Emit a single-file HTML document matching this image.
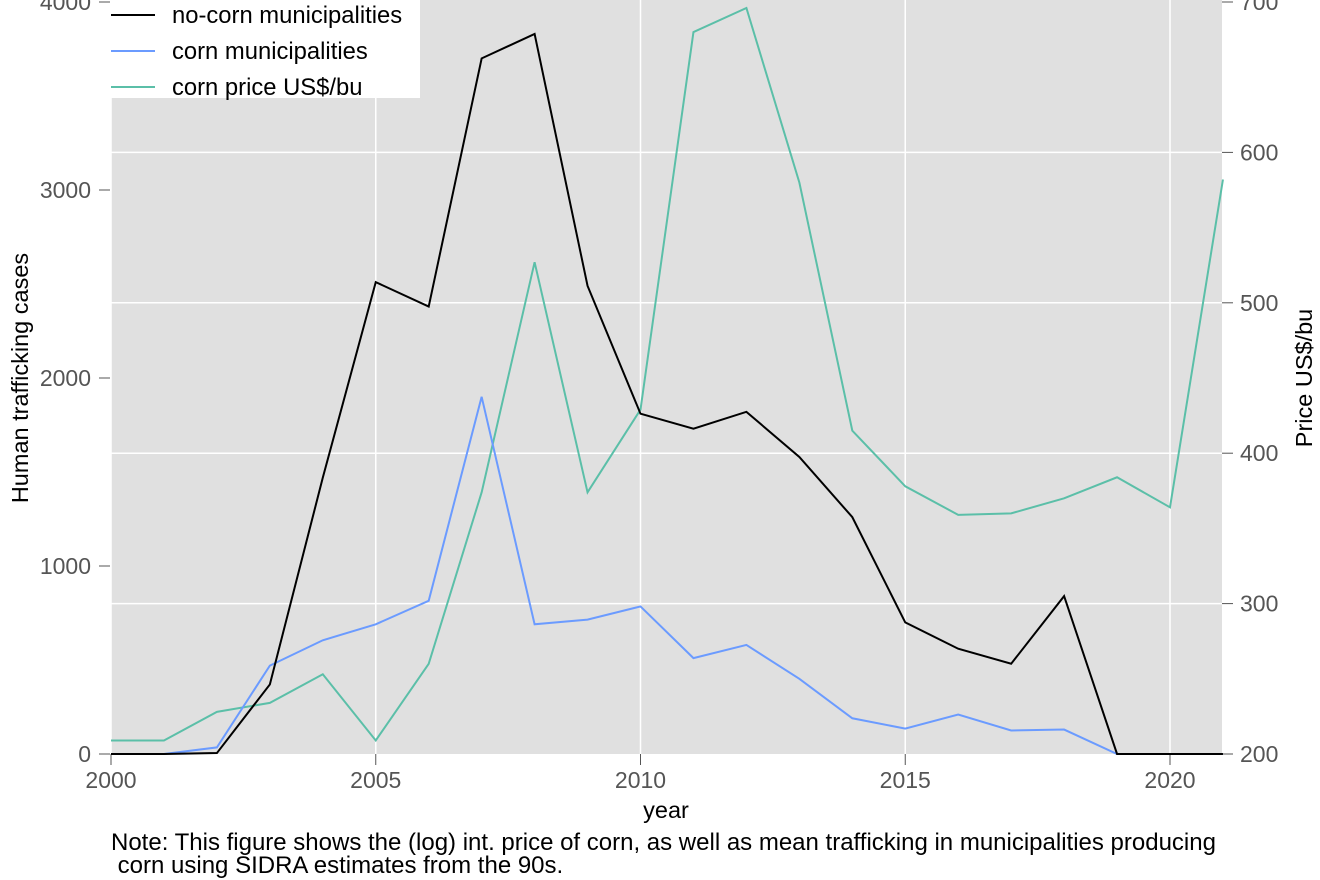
<!DOCTYPE html>
<html><head><meta charset="utf-8"><style>
body{margin:0;background:#fff;}
svg{display:block;font-family:"Liberation Sans",Arial,sans-serif;}
</style></head><body>
<svg id="chart" width="1320" height="880" xmlns="http://www.w3.org/2000/svg">
<rect x="111" y="0" width="1111" height="754" fill="#e0e0e0"/>
<g id="grid"></g>
<g id="axes"></g>
<g id="series"></g>
<g>
<rect x="111" y="0" width="309" height="98" fill="#fff"/>
<g><line x1="111" y1="15" x2="155" y2="15" stroke="#000" stroke-width="2"/><text x="172" y="23" font-size="23.8" fill="#000">no-corn municipalities</text></g>
<g><line x1="111" y1="51" x2="155" y2="51" stroke="#6b9bff" stroke-width="2"/><text x="172" y="59" font-size="23.8" fill="#000">corn municipalities</text></g>
<g><line x1="111" y1="87" x2="155" y2="87" stroke="#5bbfa8" stroke-width="2"/><text x="172" y="95" font-size="23.8" fill="#000">corn price US$/bu</text></g>
</g>
<text x="666" y="818" font-size="23.5" text-anchor="middle" fill="#000">year</text>
<text transform="translate(28,378) rotate(-90)" font-size="23.5" text-anchor="middle" fill="#000">Human trafficking cases</text>
<text transform="translate(1312,378) rotate(-90)" font-size="23.5" text-anchor="middle" fill="#000">Price US$/bu</text>
<text font-size="24" fill="#000"><tspan x="111" y="850">Note: This figure shows the (log) int. price of corn, as well as mean trafficking in municipalities producing</tspan><tspan x="111" y="873"> corn using SIDRA estimates from the 90s.</tspan></text>
</svg>
<script>
const years=[2000,2001,2002,2003,2004,2005,2006,2007,2008,2009,2010,2011,2012,2013,2014,2015,2016,2017,2018,2019,2020,2021];
const noCorn=[0,0,5,370,1470,2510,2380,3700,3830,2490,1810,1730,1820,1580,1260,700,560,480,840,0,0,0];
const corn=[0,0,35,470,605,690,815,1900,690,715,785,510,580,400,190,135,210,125,130,0,0,0];
const price=[209,209,228,234,253,209,260,374,527,374,429,680,696,580,415,378,359,360,370,384,364,582];
const xTicks=[2000,2005,2010,2015,2020];
const yLeftTicks=[0,1000,2000,3000,4000];
const yRightTicks=[200,300,400,500,600,700];
const X=v=>111+(v-2000)*(1170-111)/20;
const YL=v=>754-v*752/4000;
const YR=v=>754-(v-200)*752/500;
const NS="http://www.w3.org/2000/svg";
function mk(tag,attrs,parent,txt){const e=document.createElementNS(NS,tag);for(const k in attrs)e.setAttribute(k,attrs[k]);if(txt!==undefined)e.textContent=txt;parent.appendChild(e);return e;}
const grid=document.getElementById('grid'),axes=document.getElementById('axes'),series=document.getElementById('series');
xTicks.forEach(t=>{
 const g=mk('line',{x1:X(t),x2:X(t),y1:0,y2:754,stroke:'#fff','stroke-width':1.5},grid);
 
 
 const tk=mk('line',{x1:X(t),x2:X(t),y1:754,y2:765,stroke:'#555','stroke-width':1},axes);
 
 
 const l=mk('text',{x:X(t),y:788,'font-size':23,'text-anchor':'middle',fill:'#555'},axes,t);
 
 
});
yRightTicks.forEach(t=>{
 if(t>200&&t<700){const g=mk('line',{x1:111,x2:1222,y1:YR(t),y2:YR(t),stroke:'#fff','stroke-width':1.5},grid);
 
 }
 const tk=mk('line',{x1:1222,x2:1233,y1:YR(t),y2:YR(t),stroke:'#555','stroke-width':1},axes);
 
 
 const l=mk('text',{x:1240,y:YR(t)+8,'font-size':23,fill:'#555'},axes,t);
 
 
});
yLeftTicks.forEach(t=>{
 const tk=mk('line',{x1:99,x2:110,y1:YL(t),y2:YL(t),stroke:'#555','stroke-width':1},axes);
 
 
 const l=mk('text',{x:91,y:YL(t)+8,'font-size':23,'text-anchor':'end',fill:'#555'},axes,t);
 
 
});
function line(vals,yf,color,name){
 const p=mk('polyline',{points:vals.map((v,i)=>X(years[i])+','+yf(v)).join(' '),fill:'none',stroke:color,'stroke-width':2},series);
 
 
}
line(price,YR,'#5bbfa8','corn-price-line');
line(corn,YL,'#6b9bff','corn-municipalities-line');
line(noCorn,YL,'#000','no-corn-municipalities-line');
</script>
</body></html>
